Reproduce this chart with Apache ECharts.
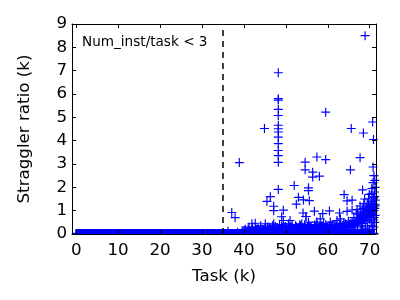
<!DOCTYPE html>
<html>
<head>
<meta charset="utf-8">
<script src="https://cdn.jsdelivr.net/npm/echarts@6/dist/echarts.min.js"></script>
<style>html,body{margin:0;padding:0;background:#fff;}#c{width:400px;height:300px;}</style>
</head>
<body>
<div id="c"></div>
<script>
// Tick labels
const xTicks = [0, 10, 20, 30, 40, 50, 60, 70];
const yTicks = [0, 1, 2, 3, 4, 5, 6, 7, 8, 9];
const thresholdTask = 35;
const noteText = 'Num_inst/task < 3';

// Dense band of tasks whose straggler ratio reads as ~0 (k)
const bandX = [0,0.2,0.4,0.6,0.8,1,1.2,1.4,1.6,1.8,2,2.2,2.4,2.6,2.8,3,3.2,3.4,3.6,3.8,4,4.2,4.4,4.6,4.8,5,5.2,5.4,5.6,5.8,6,6.2,6.4,6.6,6.8,7,7.2,7.4,7.6,7.8,8,8.2,8.4,8.6,8.8,9,9.2,9.4,9.6,9.8,
10,10.2,10.4,10.6,10.8,11,11.2,11.4,11.6,11.8,12,12.2,12.4,12.6,12.8,13,13.2,13.4,13.6,13.8,14,14.2,14.4,14.6,14.8,15,15.2,15.4,15.6,15.8,16,16.2,16.4,16.6,16.8,17,17.2,17.4,17.6,17.8,18,18.2,18.4,18.6,18.8,19,19.2,19.4,19.6,19.8,
20,20.2,20.4,20.6,20.8,21,21.2,21.4,21.6,21.8,22,22.2,22.4,22.6,22.8,23,23.2,23.4,23.6,23.8,24,24.2,24.4,24.6,24.8,25,25.2,25.4,25.6,25.8,26,26.2,26.4,26.6,26.8,27,27.2,27.4,27.6,27.8,28,28.2,28.4,28.6,28.8,29,29.2,29.4,29.6,29.8,
30,30.2,30.4,30.6,30.8,31,31.2,31.4,31.6,31.8,32,32.2,32.4,32.6,32.8,33,33.2,33.4,33.6,33.8,34,34.2,34.4,34.6,34.8,35,35.2,35.4,35.6,35.8,36,36.2,36.4,36.6,36.8,37,37.2,37.4,37.6,37.8,38,38.2,38.4,38.6,38.8,39,39.2,39.4,39.6,39.8,
40,40.2,40.4,40.6,40.8,41,41.2,41.4,41.6,41.8,42,42.2,42.4,42.6,42.8,43,43.2,43.4,43.6,43.8,44,44.2,44.4,44.6,44.8,45,45.2,45.4,45.6,45.8,46,46.2,46.4,46.6,46.8,47,47.2,47.4,47.6,47.8,48,48.2,48.4,48.6,48.8,49,49.2,49.4,49.6,49.8,
50,50.2,50.4,50.6,50.8,51,51.2,51.4,51.6,51.8,52,52.2,52.4,52.6,52.8,53,53.2,53.4,53.6,53.8,54,54.2,54.4,54.6,54.8,55,55.2,55.4,55.6,55.8,56,56.2,56.4,56.6,56.8,57,57.2,57.4,57.6,57.8,58,58.2,58.4,58.6,58.8,59,59.2,59.4,59.6,59.8,
60,60.2,60.4,60.6,60.8,61,61.2,61.4,61.6,61.8,62,62.2,62.4,62.6,62.8,63,63.2,63.4,63.6,63.8,64,64.2,64.4,64.6,64.8,65,65.2,65.4,65.6,65.8,66,66.2,66.4,66.6,66.8,67,67.2,67.4,67.6,67.8,68,68.2,68.4,68.6,68.8,69,69.2,69.4,69.6,69.8,
70,70.2,70.4,70.6,70.8,71];
const bandRatio = 0;

// Dense low cloud right of the threshold
const band2X = [40.0,40.4,40.8,41.2,41.6,42.0,42.4,42.8,43.2,43.6,44.0,44.4,44.8,45.2,45.6,46.0,46.4,46.8,47.2,47.6,
  48.0,48.4,48.8,49.2,49.6,50.0,50.4,50.8,51.2,51.6,52.0,52.4,52.8,53.2,53.6,54.0,54.4,54.8,55.2,55.6,
  56.0,56.4,56.8,57.2,57.6,58.0,58.4,58.8,59.2,59.6,60.0,60.4,60.8,61.2,61.6,62.0,62.4,62.8,63.2,63.6,
  64.0,64.4,64.8,65.2,65.6,66.0,66.4,66.8,67.2,67.6,68.0,68.4,68.8,69.2,69.6,70.0,70.4,70.8,71.2];
const band2Y = [0.1,0.14,0.08,0.16,0.12,0.18,0.1,0.2,0.14,0.18,0.12,0.2,0.16,0.22,0.14,0.2,0.24,0.16,0.22,0.26,
  0.18,0.24,0.2,0.28,0.22,0.26,0.2,0.3,0.24,0.28,0.22,0.3,0.26,0.2,0.3,0.24,0.28,0.22,0.32,0.26,
  0.3,0.24,0.34,0.28,0.22,0.3,0.26,0.34,0.28,0.3,0.24,0.32,0.28,0.34,0.26,0.36,0.3,0.38,0.3,0.36,
  0.32,0.4,0.34,0.42,0.38,0.46,0.4,0.52,0.6,0.7,0.75,0.85,0.8,0.9,0.95,1.0,1.05,1.15,1.2];

// Low cloud of tasks (x in k tasks, ratio in k)
const lowX = [36.2,38.5,39.6,40.3,41.2,41.9,42.7,43.4,44.0,44.6,45.1,40.8,42.2,43.8,
  45.6,46.2,46.8,47.1,47.6,48.0,48.5,49.0,49.4,49.8,46.5,48.8,
  50.2,50.6,51.0,51.4,51.8,52.3,52.8,53.3,53.8,54.3,54.8,50.8,53.0,54.6,
  55.4,55.8,56.3,56.9,57.4,57.9,58.2,58.6,59.0,59.5,59.9,56.0,58.4,
  60.3,60.6,61.0,61.5,61.9,62.2,62.6,63.0,63.4,63.8,64.2,64.6,64.9,61.2,63.2,
  65.3,65.8,66.2,66.5,66.8,67.1,67.4,67.7,68.0,68.3,68.6,68.9,69.2,69.5,69.8,70.1,70.4,70.7,71.0,71.2,
  66.0,67.0,68.1,69.0,70.0,70.9,71.3,69.4,70.3,66.4,67.9,68.8,70.6,71.1,71.3,70.8,71.0,70.5,71.2,69.9,
  40.0,40.5,41.0,41.5,42.0,42.5,43.0,43.5,44.0,44.5,45.0,45.5,46.0,46.5,47.0,47.5,48.0,48.5,49.0,49.5,
  50.0,50.5,51.0,51.5,52.0,52.5,53.0,53.5,54.0,54.5,55.0,55.5,56.0,56.5,57.0,57.5,58.0,58.5,59.0,59.5,
  60.0,60.5,61.0,61.5,62.0,62.5,63.0,63.5,64.0,64.5,65.0,65.5,66.0,66.5,67.0,67.5,68.0,68.5,69.0,69.5,70.0,70.5,71.0,
  67.2,67.8,68.4,68.7,69.1,69.6,70.2,70.8,71.2,70.4,69.8,71.0,69.3,68.2,70.6,71.3,71.3,70.9,71.2,70.7];
const lowY = [0.12,0.08,0.15,0.2,0.3,0.44,0.46,0.25,0.35,0.18,0.44,0.1,0.15,0.12,
  0.3,0.22,0.35,0.44,0.15,0.28,0.4,0.2,0.58,0.32,0.1,0.12,
  0.25,0.44,0.58,0.3,0.18,0.35,0.22,0.4,0.44,0.28,0.75,0.12,0.1,0.15,
  0.51,0.3,0.2,0.4,0.51,0.3,0.65,0.25,0.45,0.3,0.18,0.1,0.12,
  0.35,0.51,0.25,0.4,0.3,0.58,0.2,0.65,0.35,0.45,0.44,0.3,0.55,0.12,0.15,
  0.3,0.51,0.7,0.4,0.9,0.3,0.55,1.2,0.8,0.45,1.3,0.6,1.0,0.35,0.75,1.25,0.5,0.9,0.3,1.1,
  0.2,1.05,0.2,0.25,0.15,0.6,1.45,1.3,0.7,0.15,0.35,1.5,1.2,1.8,2.0,2.2,2.5,1.95,1.6,1.7,
  0.15,0.1,0.2,0.12,0.25,0.15,0.2,0.1,0.22,0.12,0.25,0.15,0.3,0.2,0.25,0.32,0.15,0.25,0.35,0.2,
  0.3,0.18,0.28,0.4,0.22,0.3,0.25,0.35,0.2,0.4,0.25,0.35,0.3,0.22,0.3,0.4,0.2,0.35,0.25,0.4,
  0.22,0.3,0.4,0.25,0.35,0.3,0.45,0.25,0.35,0.4,0.3,0.45,0.35,0.55,0.45,0.6,0.5,0.7,0.55,0.8,0.6,0.85,0.7,
  0.85,0.95,1.1,0.9,1.15,1.05,0.95,1.3,0.5,1.4,1.2,1.0,0.7,0.65,0.35,0.8,1.25,1.55,2.3,0.2];

// Scattered higher tasks
const highX = [68.9,48.2,48.2,48.2,48.2,48.2,59.5,70.7,44.9,48.2,48.2,48.2,48.2,48.2,48.2,48.2,48.2,
  65.6,68.5,70.9,38.9,57.4,54.6,59.5,67.7,54.6,56.4,56.4,58.0,65.4,70.8,
  48.2,52.0,55.4,55.4,46.3,45.5,53.0,54.2,52.5,55.6,63.9,64.6,65.8,68.3,69.7,70.5,
  47.1,47.1,49.4,49.0,37.1,37.9,54.1,56.8,58.8,60.4,62.8,64.6,65.8,67.7,68.5,54.8];
const highY = [8.5,6.91,5.8,5.74,5.34,5.08,5.22,4.8,4.52,4.66,4.51,4.37,4.15,3.87,3.58,3.36,3.07,
  4.52,4.33,4.05,3.06,3.3,3.08,3.19,3.27,2.75,2.65,2.44,2.48,2.75,2.87,
  1.91,2.08,1.98,1.86,1.6,1.4,1.57,1.46,1.28,1.43,1.69,1.42,1.45,1.89,1.5,1.73,
  1.19,1.0,1.02,0.74,0.92,0.7,0.9,0.98,0.87,0.99,0.9,0.97,1.03,0.62,1.05,0.75];

const bandPts = bandX.map(x => [x, bandRatio]);
const pts = [];
band2X.forEach((x, i) => pts.push([x, band2Y[i]]));
lowX.forEach((x, i) => pts.push([x, lowY[i]]));
highX.forEach((x, i) => pts.push([x, highY[i]]));

const FONT = 'DejaVu Sans';
const PLUS = 'path://M4.35,0h1.3v10h-1.3z M0,4.35h10v1.3h-10z';

const chart = echarts.init(document.getElementById('c'), null, {renderer: 'canvas'});
const axisCommonX = {
  type: 'value', min: -1, max: 71.5, z: 5,
  axisLine: {show: true, onZero: false, lineStyle: {color: '#000', width: 1}},
  axisTick: {show: true, inside: true, length: 4, customValues: xTicks, lineStyle: {color: '#000'}},
  splitLine: {show: false}
};
const axisCommonY = {
  type: 'value', min: 0, max: 9, interval: 1, z: 5,
  axisLine: {show: true, onZero: false, lineStyle: {color: '#000', width: 1}},
  axisTick: {show: true, inside: true, length: 4, lineStyle: {color: '#000'}},
  splitLine: {show: false}
};
chart.setOption({
  animation: false,
  backgroundColor: '#fff',
  grid: {left: 72, right: 24, top: 24, bottom: 66},
  xAxis: [
    Object.assign({}, axisCommonX, {
      position: 'bottom',
      axisLabel: {customValues: xTicks, color: '#000', fontFamily: FONT, fontSize: 16.7, margin: 8},
      name: 'Task (k)', nameLocation: 'middle', nameGap: 34,
      nameTextStyle: {color: '#000', fontFamily: FONT, fontSize: 16.7}
    }),
    Object.assign({}, axisCommonX, {position: 'top', axisLabel: {show: false}})
  ],
  yAxis: [
    Object.assign({}, axisCommonY, {
      position: 'left',
      axisLabel: {color: '#000', fontFamily: FONT, fontSize: 16.7, margin: 5,
        formatter: v => yTicks.includes(v) ? String(v) : ''},
      name: 'Straggler ratio (k)', nameLocation: 'middle', nameGap: 39,
      nameTextStyle: {color: '#000', fontFamily: FONT, fontSize: 16.7}
    }),
    Object.assign({}, axisCommonY, {position: 'right', axisLabel: {show: false}})
  ],
  series: [{
    type: 'scatter',
    xAxisIndex: 0, yAxisIndex: 0,
    data: bandPts,
    symbol: PLUS,
    symbolSize: 9,
    z: 2,
    itemStyle: {color: '#0000ff', borderColor: '#0000ff', borderWidth: 0.8, opacity: 1},
    emphasis: {disabled: true}
  }, {
    type: 'scatter',
    xAxisIndex: 0, yAxisIndex: 0,
    data: pts,
    symbol: PLUS,
    symbolSize: 9,
    z: 2,
    itemStyle: {color: '#0000ff', opacity: 1},
    emphasis: {disabled: true},
    markLine: {
      silent: true, symbol: 'none',
      label: {show: false},
      lineStyle: {color: '#000', type: [6, 5], width: 1.5},
      data: [{xAxis: thresholdTask}]
    }
  }],
  graphic: {elements: [
    {type: 'rect', z: 3, silent: true, shape: {x: 40, y: 234.5, width: 350, height: 8}, style: {fill: '#fff'}},
    {type: 'rect', z: 3, silent: true, shape: {x: 60, y: 220, width: 12, height: 20}, style: {fill: '#fff'}},
    {type: 'text', left: 82, top: 35, z: 6,
      style: {text: noteText, font: '13.6px "DejaVu Sans"', fill: '#000'}}
  ]}
});
</script>
</body>
</html>
